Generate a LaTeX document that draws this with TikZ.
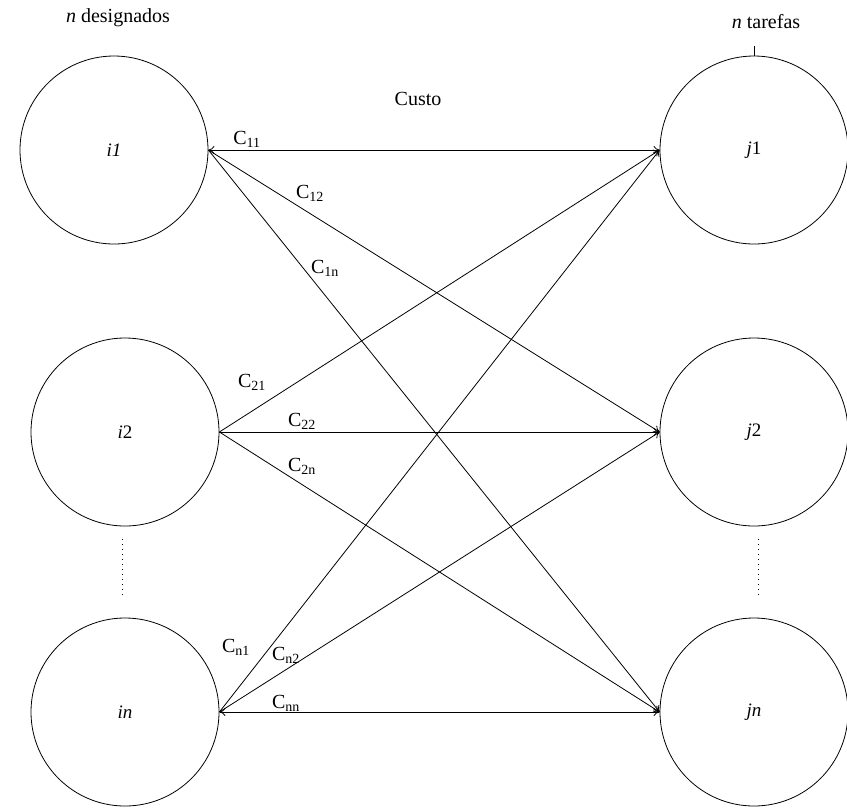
\documentclass[tikz,border=0pt]{standalone}
\usepackage{fontspec}
\setmainfont{Liberation Serif}
\usetikzlibrary{arrows.meta,calc}
\begin{document}
\begin{tikzpicture}[x=1pt,y=-1pt,
  agent/.style={circle,draw,line width=0.8pt,minimum size=188pt,inner sep=0pt,
    font=\fontsize{19}{21}\selectfont},
  link/.style={line width=0.8pt,-{To[length=6pt,width=8pt]}},
  link2/.style={line width=0.8pt,{To[length=6pt,width=8pt]}-{To[length=6pt,width=8pt]}},
  cost/.style={font=\fontsize{20}{22}\selectfont,inner sep=0pt},
  caption/.style={font=\fontsize{20}{22}\selectfont,inner sep=0pt}]
\useasboundingbox (0,0) rectangle (847,807);

% assignees and tasks
\node[agent] (i1) at (114,150) {\textit{i1}};
\node[agent] (i2) at (125,432) {\textit{i}2};
\node[agent] (in) at (125,712) {\textit{in}};
\node[agent] (j1) at (754,150) {\textit{j}1};
\node[agent] (j2) at (754,432) {\textit{j}2};
\node[agent] (jn) at (754,712) {\textit{jn}};

% headings
\node[caption] (hd) at (118,18) {\textit{n} designados};
\node[caption] (ht) at (766,22) {\textit{n} tarefas};
\coordinate (tick) at ($(j1.north)+(0,-10)$);
\draw[line width=0.8pt] (tick) -- (j1.north);
\node[cost] (custo) at (418,99) {Custo};

% omitted rows
\draw[line width=1pt,dash pattern=on 0.8pt off 4.2pt] (122,539) -- (122,598);
\draw[line width=1pt,dash pattern=on 0.8pt off 4.2pt] (758,539) -- (758,598);

% assignment costs
\draw[link2] (i1.east) -- (j1.west);
\draw[link] (i1.east) -- (j2.west);
\draw[link] (i1.east) -- (jn.west);
\draw[link] (i2.east) -- (j1.west);
\draw[link] (i2.east) -- (j2.west);
\draw[link] (i2.east) -- (jn.west);
\draw[link] (in.east) -- (j1.west);
\draw[link] (in.east) -- (j2.west);
\draw[link2] (in.east) -- (jn.west);

% cost labels
\node[cost] (c11) at (247,139) {C\textsubscript{11}};
\node[cost] (c12) at (310,193) {C\textsubscript{12}};
\node[cost] (c1n) at (325,268) {C\textsubscript{1n}};
\node[cost] (c21) at (252,382) {C\textsubscript{21}};
\node[cost] (c22) at (302,421) {C\textsubscript{22}};
\node[cost] (c2n) at (302,466) {C\textsubscript{2n}};
\node[cost] (cn1) at (236,647) {C\textsubscript{n1}};
\node[cost] (cn2) at (286,655) {C\textsubscript{n2}};
\node[cost] (cnn) at (286,703) {C\textsubscript{nn}};
\end{tikzpicture}
\end{document}
